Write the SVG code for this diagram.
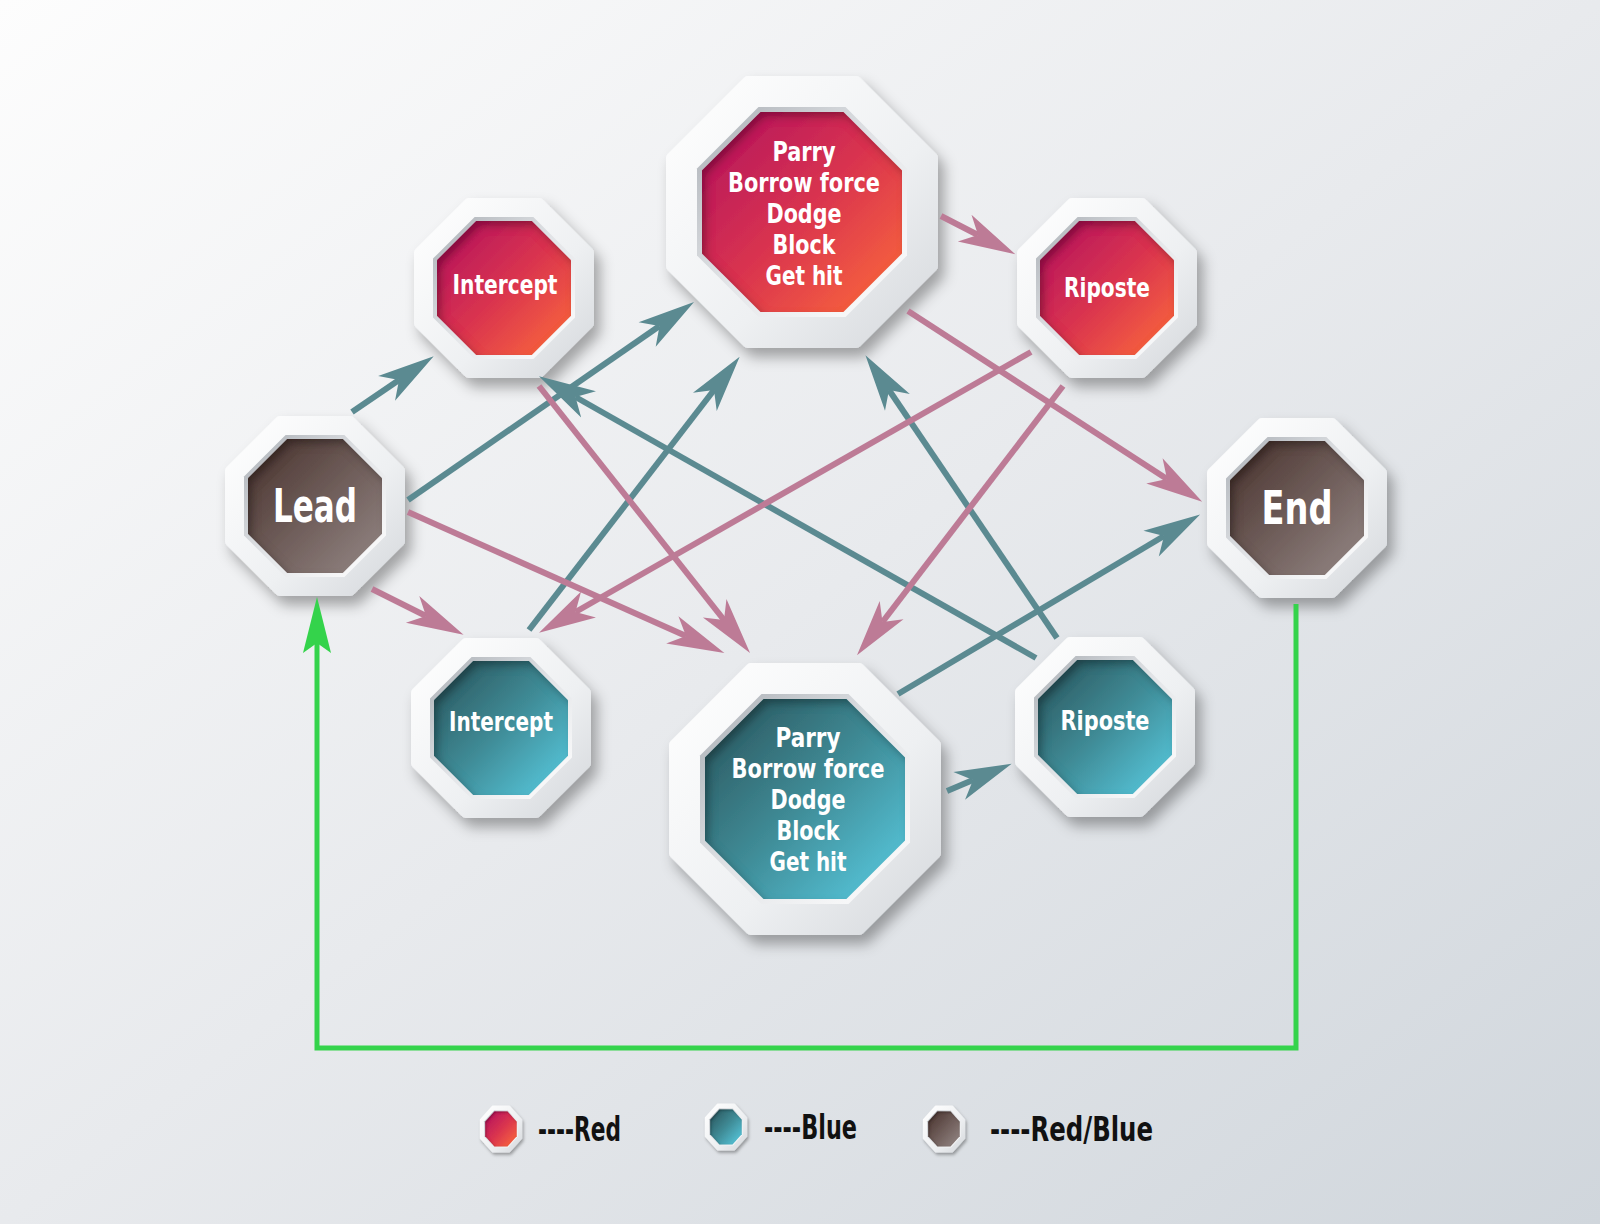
<svg xmlns="http://www.w3.org/2000/svg" xmlns:xlink="http://www.w3.org/1999/xlink" width="1600" height="1224" viewBox="0 0 1600 1224">
<defs>
<linearGradient id="bg" x1="0" y1="0" x2="1" y2="1"><stop offset="0" stop-color="#fdfdfd"/><stop offset="0.5" stop-color="#e8eaed"/><stop offset="1" stop-color="#d0d6dc"/></linearGradient>
<linearGradient id="frame" x1="0" y1="0" x2="1" y2="1"><stop offset="0" stop-color="#ffffff"/><stop offset="0.6" stop-color="#eef0f2"/><stop offset="1" stop-color="#d5d8dc"/></linearGradient>
<linearGradient id="well" x1="0" y1="0" x2="1" y2="1"><stop offset="0" stop-color="#a9aeb4"/><stop offset="0.5" stop-color="#e3e5e8"/><stop offset="1" stop-color="#ffffff"/></linearGradient>
<linearGradient id="gRed" x1="0" y1="0" x2="1" y2="1"><stop offset="0" stop-color="#b0125f"/><stop offset="0.5" stop-color="#d9334f"/><stop offset="1" stop-color="#fd6c3a"/></linearGradient>
<linearGradient id="gBlue" x1="0" y1="0" x2="1" y2="1"><stop offset="0" stop-color="#2a5158"/><stop offset="0.5" stop-color="#3f8b96"/><stop offset="1" stop-color="#5acde3"/></linearGradient>
<linearGradient id="gBrown" x1="0" y1="0" x2="1" y2="1"><stop offset="0" stop-color="#47312c"/><stop offset="1" stop-color="#958886"/></linearGradient>
<filter id="drop" x="-25%" y="-25%" width="160%" height="160%"><feDropShadow dx="6" dy="9" stdDeviation="7" flood-color="#000" flood-opacity="0.33"/></filter>
<filter id="inset" x="-10%" y="-10%" width="120%" height="120%">
<feOffset in="SourceAlpha" dx="4" dy="5" result="o"/>
<feGaussianBlur in="o" stdDeviation="4" result="b"/>
<feComposite in="SourceAlpha" in2="b" operator="out" result="rim"/>
<feFlood flood-color="#000" flood-opacity="0.55"/>
<feComposite in2="rim" operator="in" result="sh"/>
<feMerge><feMergeNode in="SourceGraphic"/><feMergeNode in="sh"/></feMerge>
</filter>
<polygon id="oS" points="-35.2,-85 35.2,-85 85,-35.2 85,35.2 35.2,85 -35.2,85 -85,35.2 -85,-35.2"/>
<polygon id="wS" points="-29.4,-71 29.4,-71 71,-29.4 71,29.4 29.4,71 -29.4,71 -71,29.4 -71,-29.4"/>
<polygon id="iS" points="-27.75,-67 27.75,-67 67,-27.75 67,27.75 27.75,67 -27.75,67 -67,27.75 -67,-27.75"/>
<polygon id="oB" points="-54.3,-131 54.3,-131 131,-54.3 131,54.3 54.3,131 -54.3,131 -131,54.3 -131,-54.3"/>
<polygon id="wB" points="-43.5,-105 43.5,-105 105,-43.5 105,43.5 43.5,105 -43.5,105 -105,43.5 -105,-43.5"/>
<polygon id="iB" points="-41.4,-100 41.4,-100 100,-41.4 100,41.4 41.4,100 -41.4,100 -100,41.4 -100,-41.4"/>
<marker id="mT" markerUnits="userSpaceOnUse" viewBox="-20 -20 70 40" refX="0" refY="0" markerWidth="70" markerHeight="40" orient="auto" overflow="visible"><path d="M42,0 L-15,-15 L0,0 L-15,15 Z" fill="#5b8a91"/></marker>
<marker id="mP" markerUnits="userSpaceOnUse" viewBox="-20 -20 70 40" refX="0" refY="0" markerWidth="70" markerHeight="40" orient="auto" overflow="visible"><path d="M42,0 L-15,-15 L0,0 L-15,15 Z" fill="#bd7b96"/></marker>
<marker id="mG" markerUnits="userSpaceOnUse" viewBox="-20 -20 70 40" refX="0" refY="0" markerWidth="70" markerHeight="40" orient="auto" overflow="visible"><path d="M46,0 L-10,-14 L0,0 L-10,14 Z" fill="#34d34b"/></marker>
<style>
.frame{fill:url(#frame);stroke:url(#frame);stroke-width:10;stroke-linejoin:round;filter:url(#drop)}
.well{fill:url(#well)}
.red{fill:url(#gRed);filter:url(#inset)}
.blue{fill:url(#gBlue);filter:url(#inset)}
.brown{fill:url(#gBrown);filter:url(#inset)}
.lbl{font-family:"DejaVu Sans Condensed","DejaVu Sans",sans-serif;font-weight:bold;fill:#ffffff;text-anchor:middle}
.leg{font-family:"DejaVu Sans Condensed","DejaVu Sans",sans-serif;font-weight:bold;fill:#111111;font-size:34px}
.conT{stroke:#5b8a91;stroke-width:6;fill:none;marker-end:url(#mT)}
.conP{stroke:#bd7b96;stroke-width:6;fill:none;marker-end:url(#mP)}
.conG{stroke:#34d34b;stroke-width:5;fill:none;marker-end:url(#mG)}
</style>
</defs>
<rect x="0" y="0" width="1600" height="1224" fill="url(#bg)"/>

<g id="node-lead" transform="translate(315,506)">
<use href="#oS" class="frame"/><use href="#wS" class="well"/><use href="#iS" class="brown"/>
<text class="lbl" y="16" font-size="46" textLength="84" lengthAdjust="spacingAndGlyphs">Lead</text>
</g>
<g id="node-end" transform="translate(1297,508)">
<use href="#oS" class="frame"/><use href="#wS" class="well"/><use href="#iS" class="brown"/>
<text class="lbl" y="16" font-size="46" textLength="71" lengthAdjust="spacingAndGlyphs">End</text>
</g>
<g id="node-red-intercept" transform="translate(504,288)">
<use href="#oS" class="frame"/><use href="#wS" class="well"/><use href="#iS" class="red"/>
<text class="lbl" x="1" y="6" font-size="26" textLength="105" lengthAdjust="spacingAndGlyphs">Intercept</text>
</g>
<g id="node-red-parry" transform="translate(802,212)">
<use href="#oB" class="frame"/><use href="#wB" class="well"/><use href="#iB" class="red"/>
<text class="lbl" x="2" y="-51" font-size="27" textLength="63" lengthAdjust="spacingAndGlyphs">Parry</text>
<text class="lbl" x="2" y="-20" font-size="27" textLength="152" lengthAdjust="spacingAndGlyphs">Borrow force</text>
<text class="lbl" x="2" y="11" font-size="27" textLength="75" lengthAdjust="spacingAndGlyphs">Dodge</text>
<text class="lbl" x="2" y="42" font-size="27" textLength="63" lengthAdjust="spacingAndGlyphs">Block</text>
<text class="lbl" x="2" y="73" font-size="27" textLength="77" lengthAdjust="spacingAndGlyphs">Get hit</text>
</g>
<g id="node-red-riposte" transform="translate(1107,288)">
<use href="#oS" class="frame"/><use href="#wS" class="well"/><use href="#iS" class="red"/>
<text class="lbl" y="9" font-size="26" textLength="86" lengthAdjust="spacingAndGlyphs">Riposte</text>
</g>
<g id="node-blue-intercept" transform="translate(501,728)">
<use href="#oS" class="frame"/><use href="#wS" class="well"/><use href="#iS" class="blue"/>
<text class="lbl" y="3" font-size="26" textLength="104" lengthAdjust="spacingAndGlyphs">Intercept</text>
</g>
<g id="node-blue-parry" transform="translate(805,799)">
<use href="#oB" class="frame"/><use href="#wB" class="well"/><use href="#iB" class="blue"/>
<text class="lbl" x="3" y="-52" font-size="27" textLength="65" lengthAdjust="spacingAndGlyphs">Parry</text>
<text class="lbl" x="3" y="-21" font-size="27" textLength="153" lengthAdjust="spacingAndGlyphs">Borrow force</text>
<text class="lbl" x="3" y="10" font-size="27" textLength="75" lengthAdjust="spacingAndGlyphs">Dodge</text>
<text class="lbl" x="3" y="41" font-size="27" textLength="63" lengthAdjust="spacingAndGlyphs">Block</text>
<text class="lbl" x="3" y="72" font-size="27" textLength="77" lengthAdjust="spacingAndGlyphs">Get hit</text>
</g>
<g id="node-blue-riposte" transform="translate(1105,727)">
<use href="#oS" class="frame"/><use href="#wS" class="well"/><use href="#iS" class="blue"/>
<text class="lbl" y="3" font-size="26" textLength="89" lengthAdjust="spacingAndGlyphs">Riposte</text>
</g>

<g id="connectors">
<line class="conT" x1="352" y1="412" x2="399" y2="380"/>
<line class="conT" x1="408" y1="500" x2="659.5" y2="326"/>
<line class="conT" x1="529" y1="630" x2="714" y2="390"/>
<line class="conT" x1="1036" y1="658" x2="575.5" y2="397"/>
<line class="conT" x1="1057" y1="638" x2="889" y2="390"/>
<line class="conT" x1="898" y1="694" x2="1164" y2="536"/>
<line class="conT" x1="947" y1="791" x2="973" y2="780"/>
<line class="conP" x1="941" y1="216" x2="978" y2="235"/>
<line class="conP" x1="908" y1="311" x2="1167" y2="479"/>
<line class="conP" x1="539" y1="386" x2="724" y2="620"/>
<line class="conP" x1="372" y1="589" x2="426" y2="616"/>
<line class="conP" x1="408" y1="512" x2="686" y2="636"/>
<line class="conP" x1="1031" y1="352" x2="575.5" y2="612"/>
<line class="conP" x1="1063" y1="386" x2="882.5" y2="622"/>
<path class="conG" d="M1296,604 V1048 H317 V643"/>
</g>

<g id="legend">
<g id="legend-red" transform="translate(501,1129) scale(0.235,0.26)"><use href="#oS" class="frame"/><use href="#wS" class="well"/><use href="#iS" class="red"/></g>
<text class="leg" x="538" y="1141" textLength="83" lengthAdjust="spacingAndGlyphs">----Red</text>
<g id="legend-blue" transform="translate(726,1127) scale(0.235,0.26)"><use href="#oS" class="frame"/><use href="#wS" class="well"/><use href="#iS" class="blue"/></g>
<text class="leg" x="764" y="1139" textLength="93" lengthAdjust="spacingAndGlyphs">----Blue</text>
<g id="legend-redblue" transform="translate(944,1129) scale(0.235,0.26)"><use href="#oS" class="frame"/><use href="#wS" class="well"/><use href="#iS" class="brown"/></g>
<text class="leg" x="990" y="1141" textLength="163" lengthAdjust="spacingAndGlyphs">----Red/Blue</text>
</g>
</svg>
